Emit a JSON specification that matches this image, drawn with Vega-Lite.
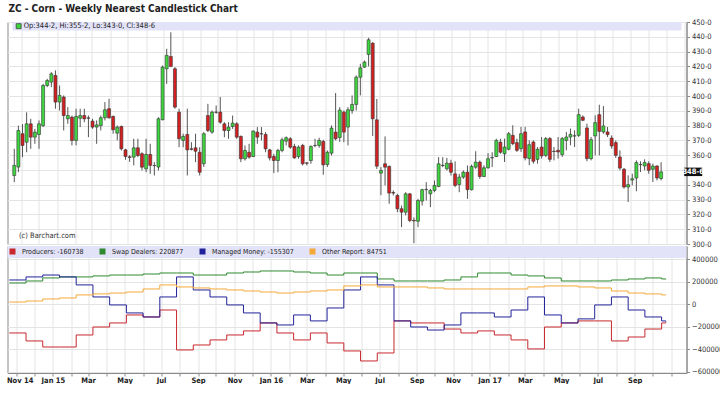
{
"$schema": "https://vega.github.io/schema/vega-lite/v6.json",
"background": "white",
"padding": {"left": 5.5, "top": 3, "right": 0, "bottom": 0},
"spacing": 2,
"bounds": "flush",
"config": {"font": "'Liberation Sans Narrow', 'DejaVu Sans Condensed', 'Liberation Sans', sans-serif", "view": {"stroke": "#8a8a8a", "strokeWidth": 1}, "axis": {"labelOverlap": false, "labelSeparation": 0}},
"resolve": {"scale": {"y": "independent", "color": "independent"}, "legend": {"color": "independent"}},
"vconcat": [
{
 "width": 679, "height": 222,
 "title": {"text": "ZC - Corn - Weekly Nearest Candlestick Chart", "anchor": "start", "fontSize": 10, "fontWeight": "bold", "color": "#222", "offset": 4, "dx": 1},
 "data": {"values": [
{"d":"2014-10-20","o":346.3,"h":364.3,"l":341.8,"c":353.1},
{"d":"2014-10-27","o":352,"h":380,"l":348.5,"c":376.7},
{"d":"2014-11-03","o":374.5,"h":381,"l":358.7,"c":366.6},
{"d":"2014-11-10","o":368.8,"h":389,"l":362,"c":381.2},
{"d":"2014-11-17","o":381.2,"h":384.6,"l":364.3,"c":372.2},
{"d":"2014-11-24","o":372.2,"h":377.8,"l":367.7,"c":375.6},
{"d":"2014-12-01","o":374,"h":383.5,"l":364.3,"c":381.2},
{"d":"2014-12-08","o":380,"h":408.2,"l":379,"c":407.1},
{"d":"2014-12-15","o":407.1,"h":411.6,"l":406,"c":410.5},
{"d":"2014-12-22","o":409.4,"h":416.1,"l":406,"c":415},
{"d":"2014-12-29","o":413.9,"h":417.3,"l":391.4,"c":395.9},
{"d":"2015-01-05","o":395.9,"h":407.1,"l":390.2,"c":400.4},
{"d":"2015-01-12","o":399.3,"h":400.4,"l":376.7,"c":386.8},
{"d":"2015-01-19","o":384.6,"h":392.5,"l":381.2,"c":386.8},
{"d":"2015-01-26","o":385.7,"h":386.8,"l":366.6,"c":370},
{"d":"2015-02-02","o":370,"h":391.4,"l":366.6,"c":386.2},
{"d":"2015-02-09","o":385,"h":391.4,"l":379,"c":386.8},
{"d":"2015-02-16","o":386.8,"h":391.4,"l":382.3,"c":384.6},
{"d":"2015-02-23","o":385.2,"h":386.8,"l":372.2,"c":385},
{"d":"2015-03-02","o":383,"h":384.6,"l":377.8,"c":379},
{"d":"2015-03-09","o":379,"h":383.5,"l":367.7,"c":380.5},
{"d":"2015-03-16","o":380,"h":386.8,"l":376.7,"c":385.3},
{"d":"2015-03-23","o":385.3,"h":395.9,"l":383.5,"c":390.7},
{"d":"2015-03-30","o":391.4,"h":398.1,"l":384.6,"c":385.3},
{"d":"2015-04-06","o":386.2,"h":386.8,"l":374.5,"c":377.2},
{"d":"2015-04-13","o":374.9,"h":380.1,"l":370,"c":379},
{"d":"2015-04-20","o":379.4,"h":380,"l":363.2,"c":364.3},
{"d":"2015-04-27","o":363.6,"h":364.3,"l":356.9,"c":359.1},
{"d":"2015-05-04","o":358.9,"h":360,"l":355.5,"c":358.5},
{"d":"2015-05-11","o":358.7,"h":371.1,"l":353.1,"c":365},
{"d":"2015-05-18","o":365,"h":371.1,"l":358.7,"c":359.8},
{"d":"2015-05-25","o":361,"h":362,"l":349.7,"c":351.9},
{"d":"2015-06-01","o":350.8,"h":371.1,"l":348.5,"c":360.5},
{"d":"2015-06-08","o":360.5,"h":367.7,"l":347.4,"c":353.1},
{"d":"2015-06-15","o":353,"h":355.3,"l":346.3,"c":353},
{"d":"2015-06-22","o":352,"h":385.7,"l":349.7,"c":384.6},
{"d":"2015-06-29","o":384,"h":420.6,"l":383.5,"c":419.5},
{"d":"2015-07-06","o":418.4,"h":431.9,"l":408.2,"c":427.4},
{"d":"2015-07-13","o":426.7,"h":443,"l":419.5,"c":420},
{"d":"2015-07-20","o":418.4,"h":419.5,"l":391.4,"c":392.5},
{"d":"2015-07-27","o":389.1,"h":391.4,"l":365.4,"c":371.1},
{"d":"2015-08-03","o":370,"h":374.5,"l":365.4,"c":372.7},
{"d":"2015-08-10","o":374,"h":391.4,"l":346.3,"c":363.6},
{"d":"2015-08-17","o":364.3,"h":368.8,"l":363.2,"c":364},
{"d":"2015-08-24","o":365,"h":374.5,"l":355.3,"c":362.7},
{"d":"2015-08-31","o":362,"h":365.4,"l":346.3,"c":348.5},
{"d":"2015-09-07","o":354.2,"h":375.6,"l":352,"c":374.5},
{"d":"2015-09-14","o":386.8,"h":394.7,"l":375.6,"c":376.7},
{"d":"2015-09-21","o":375.6,"h":390.2,"l":374.5,"c":389.1},
{"d":"2015-09-28","o":389.1,"h":393.6,"l":388,"c":389},
{"d":"2015-10-05","o":389.1,"h":399.3,"l":381.2,"c":382.3},
{"d":"2015-10-12","o":381.2,"h":382.3,"l":372.2,"c":376.7},
{"d":"2015-10-19","o":376.7,"h":382.3,"l":371.1,"c":379},
{"d":"2015-10-26","o":379.4,"h":386.8,"l":377.8,"c":381.7},
{"d":"2015-11-02","o":381.2,"h":382.3,"l":371.1,"c":372.2},
{"d":"2015-11-09","o":372.7,"h":373.3,"l":355.3,"c":357.6},
{"d":"2015-11-16","o":357.6,"h":366.6,"l":356.4,"c":363.2},
{"d":"2015-11-23","o":362,"h":367.7,"l":357.6,"c":358.7},
{"d":"2015-11-30","o":359.1,"h":376.7,"l":358.7,"c":376.3},
{"d":"2015-12-07","o":375.6,"h":379,"l":367.7,"c":372.2},
{"d":"2015-12-14","o":374.5,"h":379,"l":370,"c":374.4},
{"d":"2015-12-21","o":374,"h":375.6,"l":362,"c":364.3},
{"d":"2015-12-28","o":363.6,"h":364.3,"l":356.4,"c":358.2},
{"d":"2016-01-04","o":359.1,"h":360.9,"l":347.9,"c":356.4},
{"d":"2016-01-11","o":356.4,"h":364.3,"l":348.5,"c":363.2},
{"d":"2016-01-18","o":363.2,"h":371.8,"l":362,"c":370.4},
{"d":"2016-01-25","o":369.5,"h":372.7,"l":366.6,"c":371.8},
{"d":"2016-02-01","o":371.1,"h":372.2,"l":364.3,"c":365.4},
{"d":"2016-02-08","o":365.9,"h":367.7,"l":357.6,"c":358.2},
{"d":"2016-02-15","o":359.1,"h":366.6,"l":357.6,"c":365.4},
{"d":"2016-02-22","o":366.6,"h":367.7,"l":353.1,"c":354.2},
{"d":"2016-02-29","o":354.8,"h":355.3,"l":353.1,"c":354.6},
{"d":"2016-03-07","o":356.4,"h":366.6,"l":354.2,"c":365.9},
{"d":"2016-03-14","o":366.5,"h":371.1,"l":365.4,"c":366.6},
{"d":"2016-03-21","o":366.6,"h":371.8,"l":365,"c":370},
{"d":"2016-03-28","o":369.3,"h":370.4,"l":346.8,"c":353.5},
{"d":"2016-04-04","o":353.7,"h":363.2,"l":352,"c":362},
{"d":"2016-04-11","o":361.4,"h":380.1,"l":359.8,"c":378.3},
{"d":"2016-04-18","o":375.6,"h":402,"l":370,"c":371.1},
{"d":"2016-04-25","o":372,"h":392.5,"l":369,"c":390.5},
{"d":"2016-05-02","o":389.1,"h":390.2,"l":368.8,"c":375.6},
{"d":"2016-05-09","o":379,"h":392.5,"l":366.6,"c":390.7},
{"d":"2016-05-16","o":390.2,"h":400.4,"l":388,"c":394.3},
{"d":"2016-05-23","o":394.3,"h":413.9,"l":390.2,"c":412.7},
{"d":"2016-05-30","o":412.7,"h":421.8,"l":400.4,"c":419},
{"d":"2016-06-06","o":419.5,"h":424,"l":419,"c":422.9},
{"d":"2016-06-13","o":428.1,"h":439.3,"l":420,"c":438},
{"d":"2016-06-20","o":435.7,"h":436.4,"l":373,"c":384.6},
{"d":"2016-06-27","o":383.9,"h":398,"l":350.7,"c":352.6},
{"d":"2016-07-04","o":347.9,"h":352,"l":333,"c":349.7},
{"d":"2016-07-11","o":354.2,"h":372.7,"l":339.6,"c":351.9},
{"d":"2016-07-18","o":352.4,"h":353.1,"l":327.2,"c":334.4},
{"d":"2016-07-25","o":334.8,"h":336.2,"l":332.8,"c":334.4},
{"d":"2016-08-01","o":332.8,"h":333.9,"l":321.5,"c":323.8},
{"d":"2016-08-08","o":323.8,"h":326,"l":311.4,"c":321.5},
{"d":"2016-08-15","o":321.5,"h":335,"l":319.3,"c":333.9},
{"d":"2016-08-22","o":333.9,"h":334.4,"l":314.8,"c":315.9},
{"d":"2016-08-29","o":316,"h":318,"l":300.5,"c":315.6},
{"d":"2016-09-05","o":315.4,"h":330.5,"l":311.4,"c":329.4},
{"d":"2016-09-12","o":329,"h":337.3,"l":326,"c":336.7},
{"d":"2016-09-19","o":336.7,"h":341.8,"l":329.4,"c":336.9},
{"d":"2016-09-26","o":333.9,"h":337.3,"l":324.9,"c":336.2},
{"d":"2016-10-03","o":336.2,"h":342.9,"l":335,"c":339.6},
{"d":"2016-10-10","o":338.9,"h":358.7,"l":338.4,"c":354.2},
{"d":"2016-10-17","o":353,"h":358.7,"l":351.9,"c":353.2},
{"d":"2016-10-24","o":350.8,"h":358.2,"l":349.7,"c":354.6},
{"d":"2016-10-31","o":354.6,"h":356.9,"l":346.3,"c":348.5},
{"d":"2016-11-07","o":347.4,"h":355.8,"l":338.4,"c":339.6},
{"d":"2016-11-14","o":340.2,"h":347.4,"l":335,"c":345.2},
{"d":"2016-11-21","o":345.2,"h":349.7,"l":344,"c":348.5},
{"d":"2016-11-28","o":348.5,"h":353.1,"l":330.5,"c":336.7},
{"d":"2016-12-05","o":336.7,"h":353.7,"l":336.2,"c":352.4},
{"d":"2016-12-12","o":351.9,"h":362.7,"l":350.8,"c":355.3},
{"d":"2016-12-19","o":355.3,"h":356.4,"l":344,"c":345.6},
{"d":"2016-12-26","o":345.6,"h":353.1,"l":345.2,"c":351.5},
{"d":"2017-01-02","o":351.5,"h":361.4,"l":350.8,"c":357.6},
{"d":"2017-01-09","o":358.2,"h":362,"l":352,"c":358.4},
{"d":"2017-01-16","o":359.1,"h":371.1,"l":358.7,"c":370},
{"d":"2017-01-23","o":368.8,"h":371.1,"l":361,"c":362},
{"d":"2017-01-30","o":361,"h":371.2,"l":355.4,"c":365.5},
{"d":"2017-02-06","o":364,"h":375.7,"l":363.3,"c":374.5},
{"d":"2017-02-13","o":373.4,"h":380.2,"l":366.7,"c":367.8},
{"d":"2017-02-20","o":368.5,"h":371.2,"l":362.2,"c":363.3},
{"d":"2017-02-27","o":364.4,"h":379.1,"l":362.2,"c":374.5},
{"d":"2017-03-06","o":375.7,"h":379.1,"l":356.5,"c":358.1},
{"d":"2017-03-13","o":357.7,"h":370,"l":353.2,"c":367.1},
{"d":"2017-03-20","o":368.9,"h":370,"l":354.3,"c":355.9},
{"d":"2017-03-27","o":357.2,"h":365.5,"l":354.3,"c":364},
{"d":"2017-04-03","o":365.5,"h":372.3,"l":357.7,"c":359.5},
{"d":"2017-04-10","o":359.9,"h":372.3,"l":358.8,"c":371.2},
{"d":"2017-04-17","o":371.2,"h":372.3,"l":355.4,"c":357.2},
{"d":"2017-04-24","o":362.7,"h":365.5,"l":356.5,"c":362.5},
{"d":"2017-05-01","o":363.3,"h":372.3,"l":357.7,"c":362.2},
{"d":"2017-05-08","o":360.4,"h":372.3,"l":358.8,"c":371.2},
{"d":"2017-05-15","o":370,"h":375.7,"l":363.3,"c":372.3},
{"d":"2017-05-22","o":372.3,"h":378,"l":366.7,"c":374.1},
{"d":"2017-05-29","o":373,"h":376.8,"l":365.5,"c":373.1},
{"d":"2017-06-05","o":373.4,"h":391.4,"l":372.3,"c":387.4},
{"d":"2017-06-12","o":385.8,"h":386.9,"l":383,"c":383.6},
{"d":"2017-06-19","o":378.4,"h":381.3,"l":355.9,"c":357.7},
{"d":"2017-06-26","o":357.7,"h":372.3,"l":356.5,"c":370.5},
{"d":"2017-07-03","o":373,"h":386.9,"l":359.9,"c":382},
{"d":"2017-07-10","o":387.4,"h":394.1,"l":359.9,"c":376.1},
{"d":"2017-07-17","o":375.7,"h":393.2,"l":374.5,"c":379.7},
{"d":"2017-07-24","o":375.7,"h":379.1,"l":372.3,"c":373.9},
{"d":"2017-07-31","o":371.6,"h":373.4,"l":364.4,"c":366.2},
{"d":"2017-08-07","o":368.5,"h":370,"l":358.1,"c":359.9},
{"d":"2017-08-14","o":358.8,"h":363.3,"l":349.8,"c":351.3},
{"d":"2017-08-21","o":350.5,"h":351.4,"l":337.4,"c":338.5},
{"d":"2017-08-28","o":338.5,"h":346.4,"l":328.4,"c":340.1},
{"d":"2017-09-04","o":343.2,"h":347.5,"l":339.6,"c":344.1},
{"d":"2017-09-11","o":344.6,"h":356.5,"l":335.6,"c":355},
{"d":"2017-09-18","o":353.7,"h":355.9,"l":348.6,"c":353.6},
{"d":"2017-09-25","o":352.7,"h":357.2,"l":349.8,"c":355},
{"d":"2017-10-02","o":354.3,"h":355.9,"l":347.5,"c":349.8},
{"d":"2017-10-09","o":350.5,"h":354.3,"l":341.9,"c":352.7},
{"d":"2017-10-16","o":352.7,"h":353.2,"l":343,"c":344.6},
{"d":"2017-10-23","o":344.25,"h":355.25,"l":343,"c":348.75}
 ]},
 "encoding": {"x": {"field": "d", "type": "temporal",
   "scale": {"type": "utc", "domain": ["2014-10-17T00:00:00Z", "2017-11-26T16:00:00Z"]},
   "axis": {"title": null, "labels": false, "ticks": false, "domain": false, "grid": true, "gridColor": "#e4e4e4", "tickCount": {"interval": "month", "step": 1}, "maxExtent": 0, "minExtent": 0, "labelPadding": 0}}},
 "layer": [
  {"data": {"values": [{"d": "2014-10-17T00:00:00Z", "d2": "2017-11-26T16:00:00Z", "top": 450, "bottom": 444.3}]},
   "mark": {"type": "rect", "color": "#e2e2f8"},
   "encoding": {"x2": {"field": "d2"},
     "y": {"field": "top", "type": "quantitative", "scale": {"domain": [300, 450], "nice": false, "zero": false},
       "axis": {"orient": "right", "title": null, "values": [300,310,320,330,340,350,360,370,380,390,400,410,420,430,440,450], "labelOverlap": false, "labelBound": false, "labelExpr": "datum.value == 350 ? '' : datum.value + '-0'", "grid": true, "gridColor": "#e4e4e4", "tickSize": 3, "labelFontSize": 7.5, "labelColor": "#333", "domainColor": "#8a8a8a", "tickColor": "#8a8a8a", "labelPadding": 2}},
     "y2": {"field": "bottom"}}},
  {"mark": {"type": "rule", "color": "#555", "strokeWidth": 1},
   "encoding": {"y": {"field": "l", "type": "quantitative",
       "axis": {"orient": "right", "title": null, "values": [300,310,320,330,340,350,360,370,380,390,400,410,420,430,440,450], "labelOverlap": false, "labelBound": false, "labelExpr": "datum.value == 350 ? '' : datum.value + '-0'", "grid": true, "gridColor": "#e4e4e4", "tickSize": 3, "labelFontSize": 7.5, "labelColor": "#333", "domainColor": "#8a8a8a", "tickColor": "#8a8a8a", "labelPadding": 2}},
     "y2": {"field": "h"}}},
  {"mark": {"type": "bar", "size": 3, "stroke": "#333", "strokeWidth": 0.6},
   "encoding": {"y": {"field": "o", "type": "quantitative",
       "axis": {"orient": "right", "title": null, "values": [300,310,320,330,340,350,360,370,380,390,400,410,420,430,440,450], "labelOverlap": false, "labelBound": false, "labelExpr": "datum.value == 350 ? '' : datum.value + '-0'", "grid": true, "gridColor": "#e4e4e4", "tickSize": 3, "labelFontSize": 7.5, "labelColor": "#333", "domainColor": "#8a8a8a", "tickColor": "#8a8a8a", "labelPadding": 2}},
     "y2": {"field": "c"},
     "color": {"condition": {"test": "datum.c >= datum.o", "value": "#3ed63e"}, "value": "#d42020"}}},
  {"data": {"values": [{"d": "2014-10-28", "p": 305.7, "t": "(c) Barchart.com"}]},
   "mark": {"type": "text", "align": "left", "baseline": "middle", "fontSize": 7.5, "color": "#333"},
   "encoding": {"text": {"field": "t", "type": "nominal"}, "y": {"field": "p", "type": "quantitative",
       "axis": {"orient": "right", "title": null, "values": [300,310,320,330,340,350,360,370,380,390,400,410,420,430,440,450], "labelOverlap": false, "labelBound": false, "labelExpr": "datum.value == 350 ? '' : datum.value + '-0'", "grid": true, "gridColor": "#e4e4e4", "tickSize": 3, "labelFontSize": 7.5, "labelColor": "#333", "domainColor": "#8a8a8a", "tickColor": "#8a8a8a", "labelPadding": 2}}}},
  {"data": {"values": [{"d": "2014-10-27T12:00:00Z", "p": 447.2}]},
   "mark": {"type": "point", "shape": "square", "filled": true, "size": 25, "fill": "#3ed63e", "stroke": "#333", "strokeWidth": 0.7, "opacity": 1},
   "encoding": {"y": {"field": "p", "type": "quantitative",
       "axis": {"orient": "right", "title": null, "values": [300,310,320,330,340,350,360,370,380,390,400,410,420,430,440,450], "labelOverlap": false, "labelBound": false, "labelExpr": "datum.value == 350 ? '' : datum.value + '-0'", "grid": true, "gridColor": "#e4e4e4", "tickSize": 3, "labelFontSize": 7.5, "labelColor": "#333", "domainColor": "#8a8a8a", "tickColor": "#8a8a8a", "labelPadding": 2}}}},
  {"data": {"values": [{"d": "2014-11-05T00:00:00Z", "p": 447.2, "t": "Op:344-2, Hi:355-2, Lo:343-0, Cl:348-6"}]},
   "mark": {"type": "text", "align": "left", "baseline": "middle", "fontSize": 7.5, "color": "#222"},
   "encoding": {"text": {"field": "t", "type": "nominal"}, "y": {"field": "p", "type": "quantitative",
       "axis": {"orient": "right", "title": null, "values": [300,310,320,330,340,350,360,370,380,390,400,410,420,430,440,450], "labelOverlap": false, "labelBound": false, "labelExpr": "datum.value == 350 ? '' : datum.value + '-0'", "grid": true, "gridColor": "#e4e4e4", "tickSize": 3, "labelFontSize": 7.5, "labelColor": "#333", "domainColor": "#8a8a8a", "tickColor": "#8a8a8a", "labelPadding": 2}}}},
  {"data": {"values": [{"d": "2017-11-26T16:00:00Z", "p": 348.75}]},
   "mark": {"type": "point", "shape": "M-1,-0.47H1V0.47H-1Z", "filled": true, "size": 324, "fill": "#111", "opacity": 1, "xOffset": 11.7},
   "encoding": {"y": {"field": "p", "type": "quantitative",
       "axis": {"orient": "right", "title": null, "values": [300,310,320,330,340,350,360,370,380,390,400,410,420,430,440,450], "labelOverlap": false, "labelBound": false, "labelExpr": "datum.value == 350 ? '' : datum.value + '-0'", "grid": true, "gridColor": "#e4e4e4", "tickSize": 3, "labelFontSize": 7.5, "labelColor": "#333", "domainColor": "#8a8a8a", "tickColor": "#8a8a8a", "labelPadding": 2}}}},
  {"data": {"values": [{"d": "2017-11-26T16:00:00Z", "p": 348.75, "t": "348-6"}]},
   "mark": {"type": "text", "align": "center", "baseline": "middle", "fontSize": 7.5, "fontWeight": "bold", "color": "white", "xOffset": 11.7},
   "encoding": {"text": {"field": "t", "type": "nominal"}, "y": {"field": "p", "type": "quantitative",
       "axis": {"orient": "right", "title": null, "values": [300,310,320,330,340,350,360,370,380,390,400,410,420,430,440,450], "labelOverlap": false, "labelBound": false, "labelExpr": "datum.value == 350 ? '' : datum.value + '-0'", "grid": true, "gridColor": "#e4e4e4", "tickSize": 3, "labelFontSize": 7.5, "labelColor": "#333", "domainColor": "#8a8a8a", "tickColor": "#8a8a8a", "labelPadding": 2}}}}
 ]
},
{
 "width": 679, "height": 127,
 "encoding": {"x": {"field": "d", "type": "temporal",
   "scale": {"type": "utc", "domain": ["2014-10-17T00:00:00Z", "2017-11-26T16:00:00Z"]},
   "axis": {"title": null, "grid": true, "gridColor": "#e4e4e4", "tickCount": {"interval": "month", "step": 1}, "labelOverlap": false, "labelBound": false, "labelFlush": false, "labelFontSize": 7.5, "labelFontWeight": "bold", "labelColor": "#222", "tickSize": 3, "tickColor": "#8a8a8a", "domainColor": "#8a8a8a", "labelPadding": 0,
     "labelAlign": {"condition": {"test": "utcyear(datum.value) == 2014", "value": "left"}, "value": "center"},
     "labelOffset": {"condition": {"test": "utcyear(datum.value) == 2014", "value": -10}, "value": 0},
     "labelExpr": "(utcmonth(datum.value) % 2 == 1 || (utcyear(datum.value) == 2017 && utcmonth(datum.value) > 8)) ? '' : ((utcmonth(datum.value) == 0 || utcyear(datum.value) == 2014) ? utcFormat(datum.value, '%b %y') : utcFormat(datum.value, '%b'))"}}},
 "layer": [
  {"data": {"values": [{"d": "2014-10-17T00:00:00Z", "d2": "2017-11-26T16:00:00Z", "top": 518000, "bottom": 412000}]},
   "mark": {"type": "rect", "color": "#e2e2f8"},
   "encoding": {"x2": {"field": "d2"},
     "y": {"field": "top", "type": "quantitative", "scale": {"domain": [-611000, 518000], "nice": false, "zero": false},
       "axis": {"orient": "right", "title": null, "values": [-600000,-400000,-200000,0,200000,400000], "labelOverlap": false, "labelBound": false, "format": "d", "grid": true, "gridColor": "#e4e4e4", "tickSize": 3, "labelFontSize": 7.5, "labelColor": "#333", "domainColor": "#8a8a8a", "tickColor": "#8a8a8a", "labelPadding": 2}},
     "y2": {"field": "bottom"}}},
  {"data": {"values": [
{"d":"2014-10-20","P":-255000,"S":189000,"M":216000,"O":20000},
{"d":"2014-11-17","P":-326000,"S":207000,"M":243000,"O":29000},
{"d":"2014-12-15","P":-380000,"S":234000,"M":260000,"O":47000},
{"d":"2015-01-12","P":-380000,"S":243000,"M":243000,"O":56000},
{"d":"2015-02-09","P":-273000,"S":243000,"M":172000,"O":83000},
{"d":"2015-03-09","P":-202000,"S":252000,"M":65000,"O":92000},
{"d":"2015-04-06","P":-166000,"S":260000,"M":-6000,"O":100000},
{"d":"2015-05-04","P":-95000,"S":260000,"M":-77000,"O":109000},
{"d":"2015-06-01","P":-113000,"S":269000,"M":-113000,"O":136000},
{"d":"2015-06-29","P":-51000,"S":278000,"M":65000,"O":172000},
{"d":"2015-07-27","P":-406000,"S":278000,"M":243000,"O":154000},
{"d":"2015-08-24","P":-362000,"S":260000,"M":127000,"O":145000},
{"d":"2015-09-21","P":-317000,"S":260000,"M":65000,"O":136000},
{"d":"2015-10-19","P":-273000,"S":278000,"M":-6000,"O":127000},
{"d":"2015-11-16","P":-237000,"S":287000,"M":-77000,"O":118000},
{"d":"2015-12-14","P":-166000,"S":296000,"M":-166000,"O":109000},
{"d":"2016-01-11","P":-255000,"S":296000,"M":-184000,"O":100000},
{"d":"2016-02-08","P":-317000,"S":287000,"M":-95000,"O":109000},
{"d":"2016-03-07","P":-255000,"S":278000,"M":-148000,"O":118000},
{"d":"2016-04-04","P":-344000,"S":260000,"M":-33000,"O":127000},
{"d":"2016-05-02","P":-415000,"S":278000,"M":127000,"O":163000},
{"d":"2016-05-30","P":-504000,"S":278000,"M":243000,"O":172000},
{"d":"2016-06-27","P":-433000,"S":225000,"M":172000,"O":154000},
{"d":"2016-07-25","P":-148000,"S":207000,"M":-148000,"O":154000},
{"d":"2016-08-22","P":-166000,"S":207000,"M":-202000,"O":154000},
{"d":"2016-09-19","P":-166000,"S":207000,"M":-229000,"O":145000},
{"d":"2016-10-17","P":-220000,"S":216000,"M":-184000,"O":136000},
{"d":"2016-11-14","P":-255000,"S":243000,"M":-77000,"O":136000},
{"d":"2016-12-12","P":-237000,"S":278000,"M":-77000,"O":136000},
{"d":"2017-01-09","P":-273000,"S":278000,"M":-113000,"O":136000},
{"d":"2017-02-06","P":-317000,"S":260000,"M":-51000,"O":136000},
{"d":"2017-03-06","P":-397000,"S":252000,"M":65000,"O":154000},
{"d":"2017-04-03","P":-202000,"S":234000,"M":-95000,"O":163000},
{"d":"2017-05-01","P":-166000,"S":207000,"M":-166000,"O":163000},
{"d":"2017-05-29","P":-148000,"S":207000,"M":-130000,"O":154000},
{"d":"2017-06-26","P":-148000,"S":207000,"M":-6000,"O":145000},
{"d":"2017-07-24","P":-326000,"S":216000,"M":65000,"O":118000},
{"d":"2017-08-21","P":-291000,"S":225000,"M":-51000,"O":100000},
{"d":"2017-09-18","P":-220000,"S":234000,"M":-113000,"O":92000},
{"d":"2017-10-16","P":-166000,"S":225000,"M":-148000,"O":83000},
{"d":"2017-10-23","P":-160738,"S":220877,"M":-155307,"O":84751}
   ]},
   "transform": [{"fold": ["P", "S", "M", "O"], "as": ["s", "v"]}],
   "mark": {"type": "line", "interpolate": "step-after", "strokeWidth": 1},
   "encoding": {"y": {"field": "v", "type": "quantitative",
       "axis": {"orient": "right", "title": null, "values": [-600000,-400000,-200000,0,200000,400000], "labelOverlap": false, "labelBound": false, "format": "d", "grid": true, "gridColor": "#e4e4e4", "tickSize": 3, "labelFontSize": 7.5, "labelColor": "#333", "domainColor": "#8a8a8a", "tickColor": "#8a8a8a", "labelPadding": 2}},
     "color": {"field": "s", "type": "nominal", "scale": {"domain": ["P", "S", "M", "O"], "range": ["#c8282d", "#2f8a2f", "#22229a", "#f3a93a"]},
       "legend": {"orient": "none", "legendX": 1.5, "legendY": 2, "direction": "horizontal", "padding": 0, "title": null, "symbolType": "square", "symbolSize": 9, "symbolStrokeWidth": 3, "labelFontSize": 7, "labelColor": "#222", "labelOffset": 6, "columnPadding": 11,
         "labelExpr": "datum.label == 'P' ? 'Producers: -160738' : datum.label == 'S' ? 'Swap Dealers: 220877' : datum.label == 'M' ? 'Managed Money: -155307' : 'Other Report: 84751'"}}}}
 ]
}
]
}
